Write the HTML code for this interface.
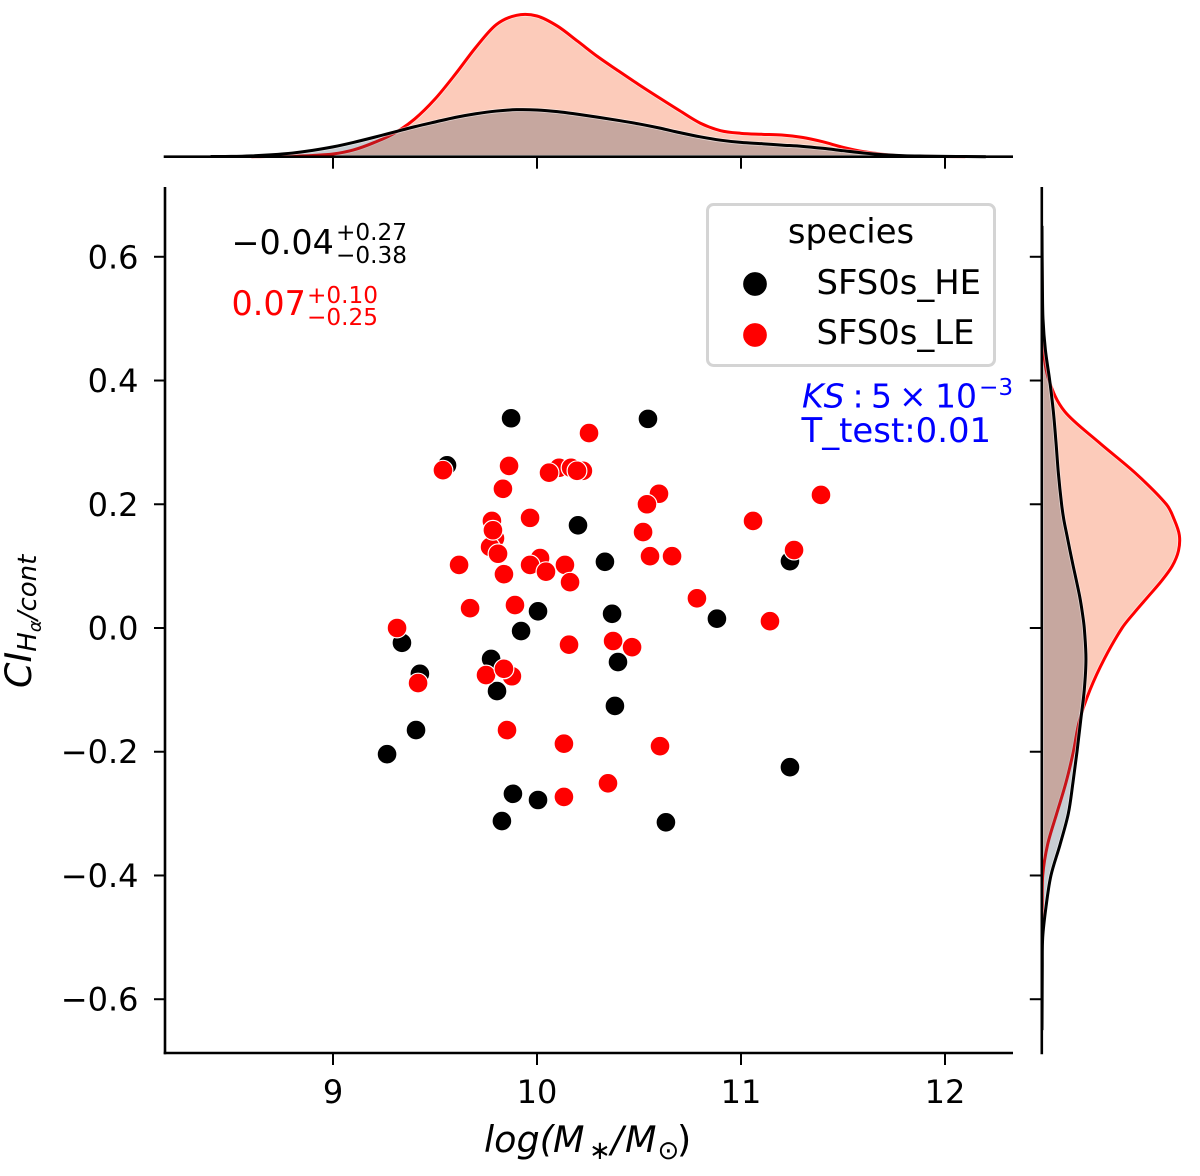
<!DOCTYPE html>
<html>
<head>
<meta charset="utf-8">
<title>Joint plot</title>
<style>
html,body{margin:0;padding:0;background:#fff;}
svg{display:block;}
text{font-family:"DejaVu Sans","Liberation Sans",sans-serif;fill:#000;}
.tick{font-size:32px;}
.leg{font-size:33.8px;}
.it{font-style:italic;}
</style>
</head>
<body>
<svg id="chart" width="1200" height="1176" viewBox="0 0 1200 1176" xmlns="http://www.w3.org/2000/svg">
  <g id="top-kde"></g>
  <g id="right-kde"></g>
  <g id="axes"></g>
  <g id="points"></g>

  <text x="231.5" y="254" font-size="33.4">−0.04</text>
  <text x="336" y="240" font-size="23.2">+0.27</text>
  <text x="336" y="263" font-size="23.2">−0.38</text>
  <text x="231.5" y="315" font-size="33.4" style="fill:#f00">0.07</text>
  <text x="307" y="303" font-size="23.2" style="fill:#f00">+0.10</text>
  <text x="307" y="325" font-size="23.2" style="fill:#f00">−0.25</text>

  <g>
    <rect x="707.5" y="204.5" width="287" height="161" rx="6" ry="6" fill="#fff" fill-opacity="0.9" stroke="#d4d4d4" stroke-width="3"/>
    <text class="leg" x="851" y="243" text-anchor="middle">species</text>
    <circle cx="755" cy="284" r="12.5" fill="#000" stroke="#fff" stroke-width="1.3"/>
    <text class="leg" x="816.5" y="294">SFS0s_HE</text>
    <circle cx="755" cy="335" r="12.5" fill="#f00" stroke="#fff" stroke-width="1.3"/>
    <text class="leg" x="816.5" y="344">SFS0s_LE</text>
  </g>

  <g>
    <text y="407.5" font-size="33" style="fill:#00f"><tspan class="it" x="802">KS</tspan><tspan x="852.5">:</tspan><tspan x="871">5</tspan><tspan x="899">×</tspan><tspan x="935">10</tspan><tspan x="979" y="395" font-size="23.2">−3</tspan></text>
    <text x="801.5" y="442" font-size="33.9" style="fill:#00f">T_test:0.01</text>
  </g>

  <text class="it" y="1152" font-size="36.5"><tspan x="484">log(</tspan><tspan x="553">M</tspan><tspan x="589" y="1159" font-size="26" font-style="normal">∗</tspan><tspan x="611" y="1152">/</tspan><tspan x="625">M</tspan><tspan x="657.5" y="1159" font-size="26" font-style="normal">⊙</tspan><tspan x="677" y="1152" font-style="normal">)</tspan></text>
  <text class="it" transform="translate(31,688) rotate(-90)" font-size="36.5">CI<tspan dy="5" font-size="26">H</tspan><tspan dy="5" font-size="18">α</tspan><tspan dy="-5" font-size="26">/cont</tspan></text>
</svg>

<script>
// Axis tick data
const xTickValues = [9, 10, 11, 12];
const xTickLabels = ["9", "10", "11", "12"];
const yTickValues = [0.6, 0.4, 0.2, 0, -0.2, -0.4, -0.6];
const yTickLabels = ["0.6", "0.4", "0.2", "0.0", "−0.2", "−0.4", "−0.6"];

// Scatter data: stellar mass (log) and concentration index
const heMass = [9.873, 10.544, 9.559, 10.201, 10.333, 11.240, 10.005, 10.368, 10.882, 9.922, 9.338, 9.426, 9.775, 10.397, 9.804, 10.382, 9.407, 9.265, 11.240, 9.882, 10.005, 9.828, 10.632];
const heCI = [0.339, 0.338, 0.263, 0.166, 0.107, 0.108, 0.027, 0.023, 0.015, -0.005, -0.024, -0.074, -0.050, -0.055, -0.102, -0.126, -0.165, -0.204, -0.225, -0.268, -0.278, -0.312, -0.314];
const leMass = [10.255, 9.539, 9.863, 10.108, 10.167, 10.225, 10.059, 10.196, 9.833, 9.779, 9.966, 9.794, 9.770, 9.784, 9.809, 10.015, 9.966, 10.044, 10.137, 10.162, 9.618, 9.838, 9.672, 9.892, 9.314, 9.417, 9.750, 9.877, 9.838, 10.157, 10.466, 10.373, 9.853, 10.132, 10.603, 10.348, 10.132, 10.598, 10.539, 10.520, 10.554, 10.662, 10.784, 11.059, 11.392, 11.260, 11.142];
const leCI = [0.315, 0.255, 0.262, 0.259, 0.259, 0.254, 0.251, 0.254, 0.225, 0.173, 0.178, 0.145, 0.131, 0.158, 0.120, 0.113, 0.102, 0.091, 0.102, 0.074, 0.102, 0.087, 0.032, 0.037, 0, -0.089, -0.076, -0.078, -0.066, -0.027, -0.031, -0.021, -0.165, -0.187, -0.191, -0.251, -0.273, 0.217, 0.200, 0.155, 0.116, 0.116, 0.048, 0.173, 0.215, 0.126, 0.011];

// Marginal density along the mass axis
const massGrid = [8.4, 8.5, 8.6, 8.7, 8.8, 8.9, 9.0, 9.1, 9.2, 9.3, 9.4, 9.5, 9.6, 9.7, 9.8, 9.9, 10.0, 10.1, 10.2, 10.3, 10.4, 10.5, 10.6, 10.7, 10.8, 10.9, 11.0, 11.1, 11.2, 11.3, 11.4, 11.5, 11.6, 11.7, 11.8, 11.9, 12.0, 12.1, 12.2];
const massDensityHE = [0.001, 0.002, 0.006, 0.014, 0.026, 0.045, 0.070, 0.102, 0.138, 0.176, 0.214, 0.248, 0.281, 0.307, 0.326, 0.336, 0.334, 0.322, 0.303, 0.282, 0.259, 0.234, 0.205, 0.172, 0.142, 0.118, 0.102, 0.093, 0.083, 0.074, 0.060, 0.043, 0.026, 0.014, 0.007, 0.004, 0.002, 0.001, 0];
const massDensityLE = [0, 0, 0, 0.002, 0.004, 0.009, 0.019, 0.048, 0.100, 0.167, 0.269, 0.412, 0.590, 0.781, 0.943, 1.010, 1.005, 0.933, 0.824, 0.712, 0.612, 0.514, 0.420, 0.328, 0.240, 0.186, 0.167, 0.160, 0.155, 0.138, 0.107, 0.067, 0.036, 0.017, 0.005, 0.002, 0.001, 0, 0];

// Marginal density along the CI axis
const ciGrid = [0.65, 0.6, 0.55, 0.5, 0.45, 0.4, 0.35, 0.3, 0.25, 0.2, 0.175, 0.15, 0.125, 0.1, 0.075, 0.05, 0.025, 0, -0.05, -0.1, -0.15, -0.2, -0.25, -0.3, -0.35, -0.4, -0.45, -0.5, -0.55, -0.6, -0.65];
const ciDensityHE = [0, 0.001, 0.003, 0.007, 0.024, 0.055, 0.081, 0.100, 0.117, 0.140, 0.156, 0.178, 0.200, 0.223, 0.247, 0.270, 0.288, 0.302, 0.314, 0.302, 0.276, 0.250, 0.221, 0.188, 0.129, 0.064, 0.029, 0.005, 0.002, 0.001, 0];
const ciDensityLE = [0, 0, 0.001, 0.003, 0.010, 0.050, 0.162, 0.407, 0.669, 0.888, 0.945, 0.981, 0.975, 0.930, 0.850, 0.755, 0.660, 0.572, 0.445, 0.343, 0.267, 0.224, 0.171, 0.105, 0.040, 0.005, 0.001, 0, 0, 0, 0];

// Axis functions
function xAxis(v) { return 333 + (v - 9) * 204; }
function yAxis(v) { return 628 - v * 618.7; }
function topDensity(d) { return 156.7 - d * 140; }
function rightDensity(d) { return 1042 + d * 140; }

const NS = 'http://www.w3.org/2000/svg';
function mk(tag, attrs, parent) {
  const el = document.createElementNS(NS, tag);
  for (const k in attrs) el.setAttribute(k, attrs[k]);
  parent.appendChild(el);
  return el;
}

// Smooth path through the points, parameterised by their grid values
function spline(pts, g) {
  const n = pts.length;
  function slope(i, k) {
    const a = Math.max(i - 1, 0), b = Math.min(i + 1, n - 1);
    return (pts[b][k] - pts[a][k]) / (g[b] - g[a]);
  }
  let d = 'M' + pts[0][0].toFixed(2) + ' ' + pts[0][1].toFixed(2);
  for (let i = 0; i < n - 1; i++) {
    const h = g[i + 1] - g[i];
    const c1x = pts[i][0] + slope(i, 0) * h / 3, c1y = pts[i][1] + slope(i, 1) * h / 3;
    const c2x = pts[i + 1][0] - slope(i + 1, 0) * h / 3, c2y = pts[i + 1][1] - slope(i + 1, 1) * h / 3;
    d += 'C' + c1x.toFixed(2) + ' ' + c1y.toFixed(2) + ' ' + c2x.toFixed(2) + ' ' + c2y.toFixed(2) + ' ' + pts[i + 1][0].toFixed(2) + ' ' + pts[i + 1][1].toFixed(2);
  }
  return d;
}

// Keep the support of a density (non-zero values plus one zero at each end)
function support(grid, dens) {
  let a = 0, b = dens.length - 1;
  while (a < b && dens[a + 1] === 0) a++;
  while (b > a && dens[b - 1] === 0) b--;
  return { g: grid.slice(a, b + 1), d: dens.slice(a, b + 1) };
}

const HE_LINE = '#000000', LE_LINE = '#ff0000';
const HE_FILL = '#34465a', LE_FILL = '#f43d00', HE_ALPHA = 0.27, LE_ALPHA = 0.27;

function drawTop(parent, dens, line, fill, alpha, key) {
  const s = support(massGrid, dens);
  const pts = s.g.map((v, i) => [xAxis(v), topDensity(s.d[i])]);
  const curve = spline(pts, s.g);
  const base = 155;
  const area = mk('path', {
    d: curve + 'L' + pts[pts.length - 1][0].toFixed(2) + ' ' + base + 'L' + pts[0][0].toFixed(2) + ' ' + base + 'Z',
    fill: fill, 'fill-opacity': alpha, stroke: 'none'
  }, parent);
  
  
  const halo = mk('path', { d: curve, fill: 'none', stroke: '#fff', 'stroke-opacity': 0.5, 'stroke-width': 4.6 }, parent);
  
  
  const ln = mk('path', { d: curve, fill: 'none', stroke: line, 'stroke-width': 3 }, parent);
  
  
}

function drawRight(parent, dens, line, fill, alpha, key) {
  const s = support(ciGrid, dens);
  const pts = s.g.map((v, i) => [rightDensity(s.d[i]), yAxis(v)]);
  const curve = spline(pts, s.g);
  const base = 1043.5;
  const area = mk('path', {
    d: curve + 'L' + base + ' ' + pts[pts.length - 1][1].toFixed(2) + 'L' + base + ' ' + pts[0][1].toFixed(2) + 'Z',
    fill: fill, 'fill-opacity': alpha, stroke: 'none'
  }, parent);
  
  
  const halo = mk('path', { d: curve, fill: 'none', stroke: '#fff', 'stroke-opacity': 0.5, 'stroke-width': 4.6 }, parent);
  
  
  const ln = mk('path', { d: curve, fill: 'none', stroke: line, 'stroke-width': 3 }, parent);
  
  
}

const topG = document.getElementById('top-kde');
drawTop(topG, massDensityLE, LE_LINE, LE_FILL, LE_ALPHA, 'le');
drawTop(topG, massDensityHE, HE_LINE, HE_FILL, HE_ALPHA, 'he');

const rightG = document.getElementById('right-kde');
drawRight(rightG, ciDensityLE, LE_LINE, LE_FILL, LE_ALPHA, 'le');
drawRight(rightG, ciDensityHE, HE_LINE, HE_FILL, HE_ALPHA, 'he');

// Axes, spines, ticks
const axesG = document.getElementById('axes');
const AX = { left: 165, right: 1013, top: 187, bottom: 1053, topSpine: 156.7, rightSpine: 1041.8 };
function seg(x1, y1, x2, y2, w, parent) {
  return mk('line', { x1: x1, y1: y1, x2: x2, y2: y2, stroke: '#000', 'stroke-width': w }, parent);
}
const sLeft = seg(AX.left, AX.top, AX.left, AX.bottom + 1.3, 2.6, axesG);


const sBottom = seg(AX.left - 1.3, AX.bottom, AX.right, AX.bottom, 2.6, axesG);


const sTop = seg(AX.left - 1.3, AX.topSpine, AX.right, AX.topSpine, 2.6, axesG);


const sRight = seg(AX.rightSpine, AX.top, AX.rightSpine, AX.bottom + 1.3, 2.6, axesG);



xTickValues.forEach((v, i) => {
  const x = xAxis(v);
  const t1 = seg(x, AX.bottom, x, AX.bottom + 12, 2, axesG);
  
  
  const t2 = seg(x, AX.topSpine, x, AX.topSpine + 12, 2, axesG);
  
  
  const lab = mk('text', { x: x, y: 1103, 'text-anchor': 'middle', class: 'tick' }, axesG);
  lab.textContent = xTickLabels[i];
  
  
});

yTickValues.forEach((v, i) => {
  const y = yAxis(v);
  const t1 = seg(AX.left - 11, y, AX.left, y, 2, axesG);
  
  
  const t2 = seg(AX.rightSpine - 12, y, AX.rightSpine, y, 2, axesG);
  
  
  const lab = mk('text', { x: 138.5, y: y + 11.5, 'text-anchor': 'end', class: 'tick' }, axesG);
  lab.textContent = yTickLabels[i];
  
  
});

// Scatter points
const ptsG = document.getElementById('points');
heMass.forEach((m, i) => {
  const c = mk('circle', { cx: xAxis(m), cy: yAxis(heCI[i]), r: 9.9, fill: '#000', stroke: '#fff', 'stroke-width': 1.2 }, ptsG);
  
  
});
leMass.forEach((m, i) => {
  const c = mk('circle', { cx: xAxis(m), cy: yAxis(leCI[i]), r: 9.9, fill: '#f00', stroke: '#fff', 'stroke-width': 1.2 }, ptsG);
  
  
});
</script>
</body>
</html>
